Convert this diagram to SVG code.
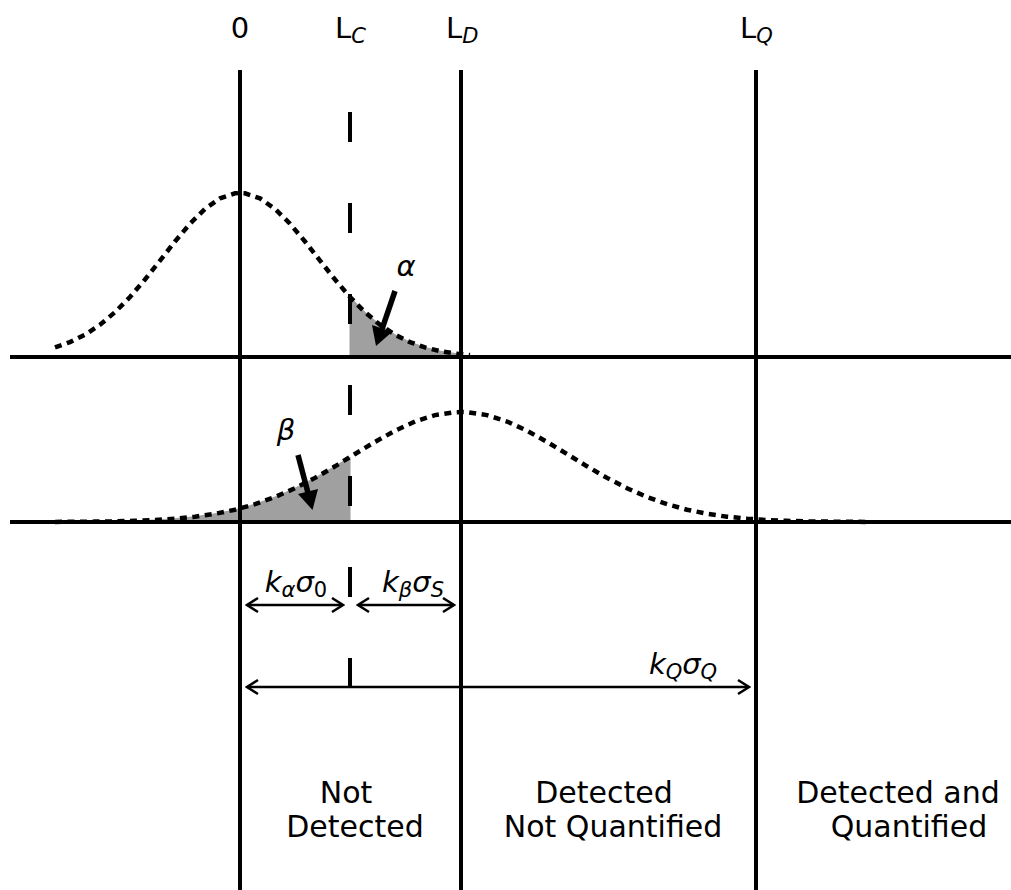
<svg xmlns="http://www.w3.org/2000/svg" width="1011" height="890" viewBox="0 0 1011 890">
<style>
.ax{stroke:#000;stroke-width:4;fill:none}
.dsh{stroke:#000;stroke-width:4;fill:none;stroke-dasharray:30 61}
.curve{stroke:#000;stroke-width:4.5;fill:none;stroke-dasharray:7 5.5}
.shade{fill:#a0a0a0;stroke:#a0a0a0;stroke-width:1}
.dbl{stroke:#000;stroke-width:2.5;fill:none;marker-start:url(#chev);marker-end:url(#chev)}
text{font-family:"DejaVu Sans","Liberation Sans",sans-serif;fill:#000}
.t{font-size:29px}
.lab{font-size:30px;text-anchor:middle}
.i{font-style:italic}
</style>
<defs>
<marker id="chev" viewBox="-14 -9 16 18" markerWidth="16" markerHeight="18" refX="0" refY="0" orient="auto-start-reverse" markerUnits="userSpaceOnUse">
<path d="M-11,-7 L0,0 L-11,7" fill="none" stroke="#000" stroke-width="2.5"/>
</marker>
</defs>
<rect width="1011" height="890" fill="#fff"/>
<g id="shading">
<path class="shade" d="M350,357 L350,297 L365,312.2 L380,324.8 L395,334.7 L410,342.1 L425,347.4 L440,351.1 L455,353.5 L461,354.2 L461,357 Z"/>
<path class="shade" d="M55,522 L55,521.9 L75,521.8 L95,521.6 L115,521.4 L135,520.8 L155,520 L175,518.7 L195,516.7 L215,513.8 L235,509.7 L255,504.2 L275,497 L295,488.2 L315,477.9 L335,466.3 L350,457.1 L350,522 Z"/>
</g>
<g id="curves">
<polyline class="curve" points="55,347.4 70,342.1 85,334.7 100,324.8 115,312.2 130,297 145,279.5 160,260.6 175,241.5 190,223.7 205,208.9 220,198.4 235,193.3 240,193 245,193.3 260,198.4 275,208.9 290,223.7 305,241.5 320,260.6 335,279.5 350,297 365,312.2 380,324.8 395,334.7 410,342.1 425,347.4 440,351.1 455,353.5 470,355"/>
<polyline class="curve" points="55,521.9 75,521.8 95,521.6 115,521.4 135,520.8 155,520 175,518.7 195,516.7 215,513.8 235,509.7 255,504.2 275,497 295,488.2 315,477.9 335,466.3 355,454 375,441.9 395,430.7 415,421.5 435,415.1 455,412.2 461,412 467,412.2 487,415.1 507,421.5 527,430.7 547,441.9 567,454 587,466.3 607,477.9 627,488.2 647,497 667,504.2 687,509.7 707,513.8 727,516.7 747,518.7 767,520 787,520.8 807,521.4 827,521.6 847,521.8 867,521.9"/>
</g>
<g id="axes">
<line class="ax" x1="10" y1="357" x2="1011" y2="357"/>
<line class="ax" x1="10" y1="522" x2="1011" y2="522"/>
<line class="ax" x1="240" y1="70" x2="240" y2="890"/>
<line class="ax" x1="461" y1="70" x2="461" y2="890"/>
<line class="ax" x1="756" y1="70" x2="756" y2="890"/>
<line class="dsh" x1="350" y1="112" x2="350" y2="688"/>
</g>
<g id="connectors">
<line x1="395" y1="291" x2="382.1" y2="328.9" stroke="#000" stroke-width="5.5"/>
<polygon points="376,346 392,332 372,325" fill="#000"/>
<line x1="298" y1="455" x2="307.9" y2="492.5" stroke="#000" stroke-width="5.5"/>
<polygon points="312.5,510 318,489 298,494" fill="#000"/>
<line class="dbl" x1="247" y1="605" x2="343" y2="605"/>
<line class="dbl" x1="358" y1="605" x2="454" y2="605"/>
<line class="dbl" x1="247" y1="687" x2="749" y2="687"/>
</g>
<g id="top-labels">
<text class="t" x="240" y="38" text-anchor="middle">0</text>
<text class="t" x="335" y="38">L<tspan class="i" font-size="21" dy="5">C</tspan></text>
<text class="t" x="446" y="38">L<tspan class="i" font-size="21" dy="5">D</tspan></text>
<text class="t" x="740" y="38">L<tspan class="i" font-size="21" dy="5">Q</tspan></text>
</g>
<g id="greek-labels">
<text class="t i" x="406" y="276" text-anchor="middle">α</text>
<text class="t i" x="286" y="440" text-anchor="middle">β</text>
</g>
<g id="k-labels">
<text class="t" x="296" y="592" text-anchor="middle"><tspan class="i">k</tspan><tspan class="i" font-size="21" dy="5">α</tspan><tspan class="i" dy="-5">σ</tspan><tspan font-size="21" dy="5">0</tspan></text>
<text class="t" x="413" y="592" text-anchor="middle"><tspan class="i">k</tspan><tspan class="i" font-size="21" dy="5">β</tspan><tspan class="i" dy="-5">σ</tspan><tspan class="i" font-size="21" dy="5">S</tspan></text>
<text class="t" x="683" y="674" text-anchor="middle"><tspan class="i">k</tspan><tspan class="i" font-size="21" dy="5">Q</tspan><tspan class="i" dy="-5">σ</tspan><tspan class="i" font-size="21" dy="5">Q</tspan></text>
</g>
<g id="region-not-detected">
<text class="lab" x="346" y="803">Not</text>
<text class="lab" x="355" y="837">Detected</text>
</g>
<g id="region-detected-not-quantified">
<text class="lab" x="604" y="803">Detected</text>
<text class="lab" x="613" y="837">Not Quantified</text>
</g>
<g id="region-detected-quantified">
<text class="lab" x="898" y="803">Detected and</text>
<text class="lab" x="909" y="837">Quantified</text>
</g>
</svg>
